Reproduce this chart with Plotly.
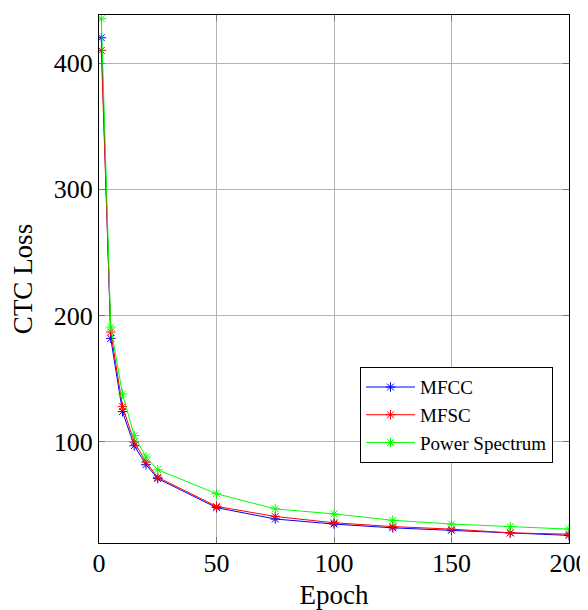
import plotly.graph_objects as go

# Epochs and CTC loss per feature type
epochs = [1, 5, 10, 15, 20, 25, 50, 75, 100, 125, 150, 175, 200]
mfcc = [420, 182, 124, 97, 82, 71, 48, 39, 35, 32, 30, 28, 26]
mfsc = [410, 187, 128, 100, 84, 72, 49, 41, 36, 33, 31, 28, 27]
power_spectrum = [435, 191, 138, 105, 88, 78, 59, 47, 43, 38, 35, 33, 31]

series = [
   ("MFCC", mfcc, "#0000ff"),
   ("MFSC", mfsc, "#ff0000"),
   ("Power Spectrum", power_spectrum, "#00ff00"),
]

serif = "Liberation Serif, Times New Roman, serif"

fig = go.Figure()
for name, values, color in series:
   fig.add_trace(go.Scatter(
      x=epochs, y=values, name=name, mode="lines+markers",
      line=dict(color=color, width=1),
      marker=dict(symbol="asterisk-open", size=8, color=color,
                  line=dict(color=color, width=1)),
   ))

axis_common = dict(
   showgrid=True, gridcolor="#b4b4b4", gridwidth=1,
   showline=True, linecolor="black", linewidth=1, mirror="ticks",
   ticks="inside", ticklen=6, tickcolor="#777777",
   zeroline=False, automargin=False, ticklabeloverflow="allow",
   tickfont=dict(family=serif, size=26, color="black"),
)

fig.update_xaxes(
   range=[0, 200], tickvals=[0, 50, 100, 150, 200],
   title=dict(text="Epoch", font=dict(family=serif, size=27, color="black"), standoff=10),
   ticklabelstandoff=-3,
   **axis_common,
)
fig.update_yaxes(
   range=[20, 438], tickvals=[100, 200, 300, 400],
   title=dict(text="CTC Loss", font=dict(family=serif, size=27, color="black"), standoff=14),
   **axis_common,
)

# page body adds an 8px offset, so the figure is a bit smaller
fig.update_layout(
   width=580, height=602,
   margin=dict(l=91, r=19, t=7, b=67),
   plot_bgcolor="white", paper_bgcolor="white",
   showlegend=True,
   legend=dict(
      x=0.966, y=0.333, xanchor="right", yanchor="top",
      bgcolor="white", bordercolor="black", borderwidth=1,
      font=dict(family=serif, size=19, color="black"),
      itemwidth=49, tracegroupgap=0,
   ),
)

fig.write_html("out.html")
